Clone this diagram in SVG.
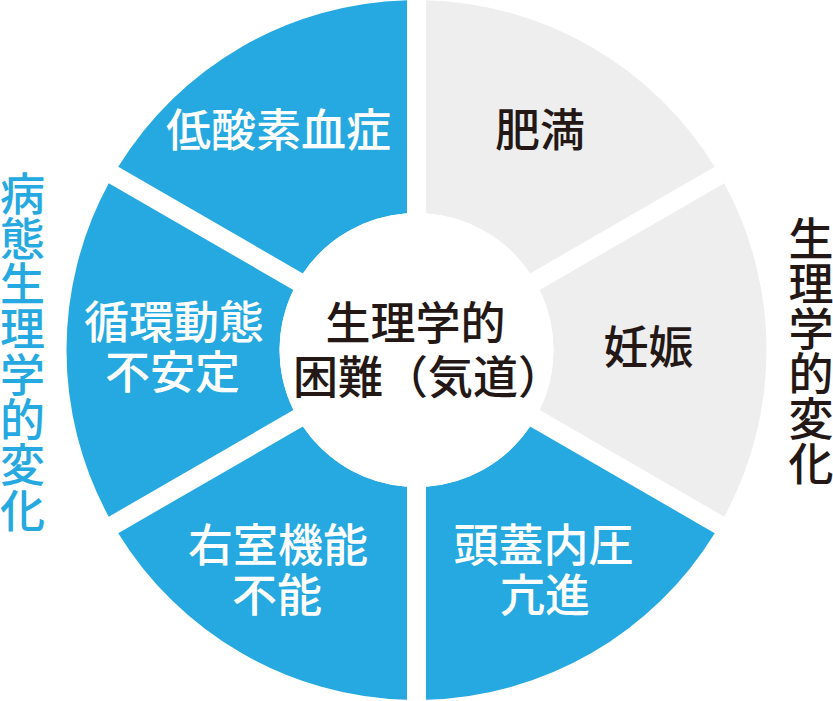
<svg xmlns="http://www.w3.org/2000/svg" width="833" height="701" viewBox="0 0 833 701">
<style>
.blue{fill:#25a9e0}
.gray{fill:#eeeeee}
text{font-family:"Noto Sans CJK JP","Noto Sans CJK SC",sans-serif;font-size:45px;font-weight:500}
.lw{fill:#ffffff;text-anchor:middle}
.ld{fill:#231815;text-anchor:middle}
.vb{fill:#25a9e0;text-anchor:middle}
.vd{fill:#231815;text-anchor:middle}
</style>
<rect width="833" height="701" fill="#ffffff"/>
<g id="connectors"></g>
<g id="seg-obesity">
<path class="gray" d="M426,0.129 A350,350 0 0 1 714.747,166.837 L530.109,273.438 A137,137 0 0 0 426,213.33 Z"/>
<text class="ld" x="540" y="147">肥満</text>
</g>
<g id="seg-pregnancy">
<path class="gray" d="M724.247,183.291 A350,350 0 0 1 724.247,516.709 L539.609,410.108 A137,137 0 0 0 539.609,289.892 Z"/>
<text class="ld" x="648.5" y="364">妊娠</text>
</g>
<g id="seg-icp">
<path class="blue" d="M714.747,533.163 A350,350 0 0 1 426,699.871 L426,486.67 A137,137 0 0 0 530.109,426.562 Z"/>
<text class="lw" x="543.5" y="562">頭蓋内圧</text>
<text class="lw" x="545" y="612">亢進</text>
</g>
<g id="seg-rv">
<path class="blue" d="M407,699.871 A350,350 0 0 1 118.253,533.163 L302.891,426.562 A137,137 0 0 0 407,486.67 Z"/>
<text class="lw" x="278" y="562">右室機能</text>
<text class="lw" x="277" y="612">不能</text>
</g>
<g id="seg-hemodynamic">
<path class="blue" d="M108.753,516.709 A350,350 0 0 1 108.753,183.291 L293.391,289.892 A137,137 0 0 0 293.391,410.108 Z"/>
<text class="lw" x="174" y="339">循環動態</text>
<text class="lw" x="172.5" y="389">不安定</text>
</g>
<g id="seg-hypoxemia">
<path class="blue" d="M118.253,166.837 A350,350 0 0 1 407,0.129 L407,213.33 A137,137 0 0 0 302.891,273.438 Z"/>
<text class="lw" x="278.5" y="147">低酸素血症</text>
</g>
<g id="center">
<circle cx="416.5" cy="350" r="137" fill="#ffffff"/>
<text class="ld" x="415.5" y="340">生理学的</text>
<text fill="#231815" x="293" y="394">困難（気道）</text>
</g>
<g id="label-left">
<text class="vb"><tspan x="22.5" y="210.5">病</tspan><tspan x="22.5" y="255.8">態</tspan><tspan x="22.5" y="301.1">生</tspan><tspan x="22.5" y="346.4">理</tspan><tspan x="22.5" y="391.7">学</tspan><tspan x="22.5" y="437">的</tspan><tspan x="22.5" y="482.3">変</tspan><tspan x="22.5" y="527.6">化</tspan></text>
</g>
<g id="label-right">
<text class="vd"><tspan x="811" y="255.5">生</tspan><tspan x="811" y="300.5">理</tspan><tspan x="811" y="345.5">学</tspan><tspan x="811" y="390.5">的</tspan><tspan x="811" y="435.5">変</tspan><tspan x="811" y="480.5">化</tspan></text>
</g>
</svg>
